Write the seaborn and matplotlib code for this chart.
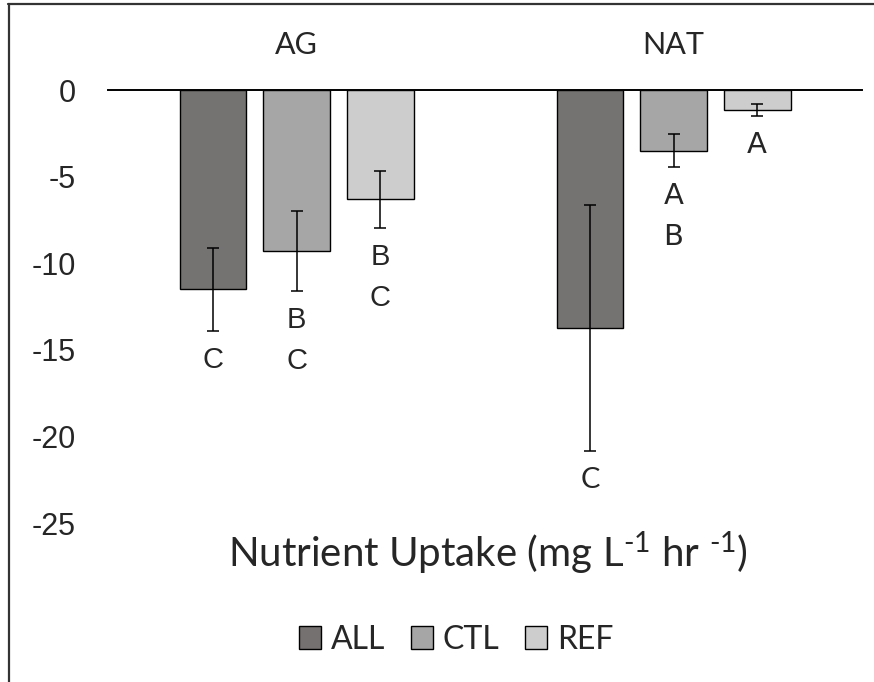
import pandas as pd
import matplotlib.pyplot as plt
import seaborn as sns
from matplotlib.lines import Line2D
from matplotlib.patches import Patch

# Dados
sites = ['AG', 'NAT']
treatments = ['ALL', 'CTL', 'REF']
ag_mean = [-11.5, -9.3, -6.3]
ag_sd = [2.4, 2.3, 1.65]
nat_mean = [-13.75, -3.5, -1.15]
nat_sd = [7.1, 0.97, 0.37]
ag_letters = ['C', 'BC', 'BC']
nat_letters = ['C', 'AB', 'A']
colors = ['#767171', '#a6a6a6', '#cdcdcd']

df = pd.DataFrame({
    'site': ['AG'] * 3 + ['NAT'] * 3,
    'treatment': treatments * 2,
    'uptake': ag_mean + nat_mean,
    'sd': ag_sd + nat_sd,
    'letters': ag_letters + nat_letters,
})

sns.set_style('white')
plt.rcParams['axes.unicode_minus'] = False
plt.rcParams['mathtext.fontset'] = 'custom'
plt.rcParams['mathtext.rm'] = 'Lato'
plt.rcParams['mathtext.it'] = 'Lato'

fig = plt.figure(figsize=(8.74, 6.82), dpi=100)
ax = fig.add_axes([0.1236, 0.2331, 0.8627, 0.6349])

sns.barplot(data=df, x='site', y='uptake', hue='treatment', hue_order=treatments,
            palette=colors, width=0.665, gap=0.2, edgecolor='black', linewidth=1,
            errorbar=None, legend=False, ax=ax)

# Barras de erro e letras
for cont, trt in zip(ax.containers, treatments):
    for bar, site in zip(cont, sites):
        row = df[(df['site'] == site) & (df['treatment'] == trt)].iloc[0]
        xc = bar.get_x() + bar.get_width() / 2
        ax.errorbar(xc, row['uptake'], yerr=row['sd'], fmt='none', ecolor='black',
                    elinewidth=1.1, capsize=4.5, capthick=1.1)
        if site == 'AG':
            fam, size = 'Liberation Sans', 21
        elif trt == 'ALL':
            fam, size = 'Lato', 21
        else:
            fam, size = 'DejaVu Sans', 21
        for i, letter in enumerate(row['letters']):
            ax.annotate(letter, xy=(xc, row['uptake'] - row['sd']),
                        xytext=(0, -29 - 41 * i), textcoords='offset pixels',
                        ha='center', va='center', fontsize=size, family=fam,
                        annotation_clip=False)

ax.set_ylim(-25, 0)
ax.set_xlim(-0.5, 1.5)
ax.set_yticks([0, -5, -10, -15, -20, -25])
ax.set_yticklabels(['0', '-5', '-10', '-15', '-20', '-25'], family='Liberation Sans', fontsize=22)
ax.xaxis.tick_top()
ax.set_xticklabels(sites, family='Lato', fontsize=22)
ax.tick_params(axis='x', length=0, pad=22)
ax.tick_params(axis='y', length=0, pad=23)
ax.set_xlabel('')
ax.set_ylabel('')
for side in ['left', 'right', 'bottom']:
    ax.spines[side].set_visible(False)
ax.spines['top'].set_color('black')
ax.spines['top'].set_linewidth(1.4)

# Título do eixo
fig.text(488 / 874, 1 - 553 / 682, r'Nutrient Uptake (mg L$^{\text{-1}}$ hr $^{\text{-1}}$)',
         ha='center', va='center', family='Lato', fontsize=29)

# Legenda
handles = [Patch(facecolor=c, edgecolor='black', linewidth=1) for c in colors]
fig.legend(handles, treatments, loc='center', bbox_to_anchor=(0.522, 0.062), ncol=3,
           frameon=False, prop={'family': 'Lato', 'size': 23}, handlelength=0.7,
           handleheight=0.7, handletextpad=0.3, columnspacing=0.8)

# Borda
fig.add_artist(Line2D([8 / 874, 1], [1 - 4 / 682] * 2, color='#333333', linewidth=1.6))
fig.add_artist(Line2D([9 / 874] * 2, [0, 1 - 4 / 682], color='#333333', linewidth=1.6))

fig.savefig('out.png', dpi=100)
